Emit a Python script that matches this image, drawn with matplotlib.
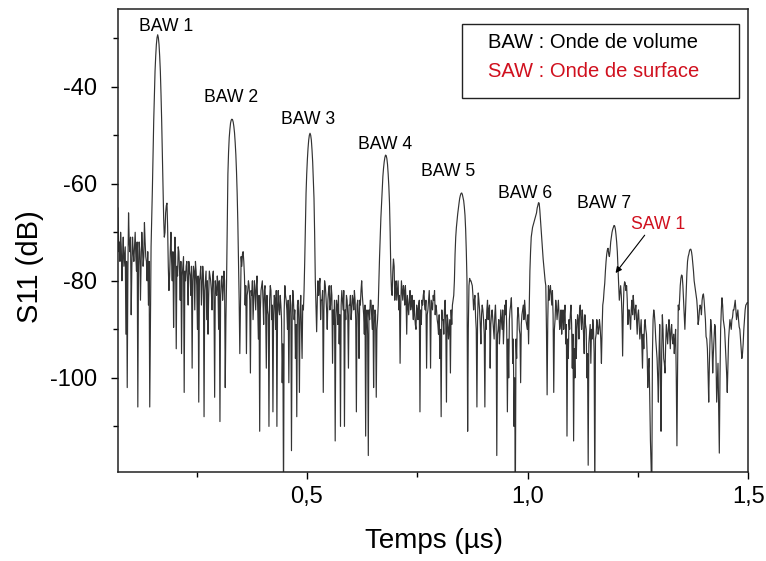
import numpy as np
import matplotlib
matplotlib.use("Agg")
import matplotlib.pyplot as plt
from matplotlib.patches import Rectangle
from matplotlib.ticker import FixedLocator

# time-domain S11 trace, 1.5 ns apart from 0.072 us.
# each echo_k holds the samples on the 3 ns grid, echo_k_mid the
# samples half-way between them.
t_start = 0.072
t_step = 0.0015

lead_in = [-65, -72, -70, -80, -71, -75, -91, -102, -66, -74,
           -87, -71, -76, -70, -78, -106, -72, -84, -70, -77,
           -68, -75, -80, -85, -106]
lead_in_mid = [-74, -76, -73, -75, -77, -73, -76, -78, -72, -71,
               -77, -74, -73, -75, -72, -77, -74, -76, -73, -75,
               -72, -76, -74, -76, -88]

echo_1 = [-73, -61, -47, -36.8, -31.3, -29.3, -31.3, -36.8, -47, -61, -71,
          -66, -64, -77, -79,
          -70, -80, -89.6, -71, -94, -79, -74, -84, -95, -77,
          -103, -80, -76, -85, -78, -83, -98, -77, -86, -78,
          -90, -105, -79, -85, -77, -108, -80, -88, -91, -78,
          -80, -86, -78, -104, -82, -79, -90, -109, -80, -84,
          -78, -102]
echo_1_mid = [-67, -53.5, -41.5, -33.7, -29.9, -29.9, -33.7, -41.5, -53.5, -67,
              -70, -64.5, -69, -82, -74,
              -76, -74, -78, -75, -77, -73, -78, -76, -79, -75,
              -78, -77, -80, -76, -79, -77, -80, -78, -76, -81,
              -79, -80, -77, -81, -79, -82, -78, -80, -83, -79,
              -82, -79, -84, -80, -83, -81, -80, -83, -79, -82,
              -80, -88]

echo_2 = [-80, -58, -50.5, -47.5, -46.7, -47.3, -49.5, -54, -62, -76,
          -95, -75, -74.5, -76,
          -85, -95, -82, -81,
          -99, -83, -88, -80, -86, -79, -92, -111, -82, -80,
          -89, -81, -98, -86, -110, -81, -88, -107, -83, -90,
          -110, -82, -87, -85, -101, -125, -81, -84, -90, -101,
          -83, -115, -82, -88, -96, -108, -84, -103, -83, -96,
          -86]
echo_2_mid = [-68, -53.5, -48.8, -46.9, -46.8, -48.2, -51.5, -57.5, -68, -84,
              -85, -77, -74, -79,
              -81, -83, -80, -84,
              -82, -80, -84, -82, -81, -85, -83, -86, -81, -84,
              -82, -86, -83, -87, -84, -82, -85, -87, -84, -82,
              -85, -86, -83, -88, -93, -86, -83, -86, -84, -87,
              -85, -88, -84, -86, -89, -85, -88, -86, -89, -85,
              -82]

echo_3 = [-76, -62, -55, -51, -49.6, -51, -55.5, -63, -80, -90.5,
          -80, -81, -88, -84, -103, -80, -83, -90, -82, -86,
          -81, -97, -89, -113, -84, -89, -93, -110, -82, -86,
          -110, -88, -84, -98, -85, -88, -83, -86, -84, -107,
          -84, -96, -85, -80, -85, -91, -112, -86, -116, -88,
          -84, -90, -102, -86, -104, -88]
echo_3_mid = [-68.5, -58, -52.7, -50, -50, -53, -59, -70.5, -85, -84,
              -83, -79.5, -84, -82, -86, -81, -86, -84, -81, -85,
              -83, -86, -84, -88, -85, -83, -87, -85, -84, -82,
              -86, -83, -87, -85, -83, -86, -84, -82, -88, -85,
              -87, -84, -82, -83, -87, -85, -88, -91, -86, -84,
              -87, -85, -89, -87, -90, -85]

echo_4 = [-80, -71, -64, -58.5, -55.5, -54.1, -54.8, -58, -64, -78, -83,
          -75.5,
          -84, -80, -82, -86, -97, -80, -84, -82, -81, -91,
          -85, -84, -86, -83, -88, -87, -90, -86, -85, -107,
          -89, -85, -82, -86, -98, -86, -82, -98, -85, -83,
          -82, -85, -88, -91, -96, -108, -88, -91, -84, -105,
          -88, -90, -99, -89, -84]
echo_4_mid = [-75, -67, -61, -56.8, -54.6, -54.2, -56, -60.5, -70, -82, -78,
              -77,
              -81, -84, -80, -83, -85, -82, -81, -85, -84, -83,
              -87, -82, -85, -86, -84, -89, -85, -88, -84, -86,
              -84, -83, -85, -84, -87, -84, -86, -84, -86, -84,
              -87, -86, -89, -87, -90, -86, -88, -86, -89, -87,
              -92, -88, -86, -85, -83]

echo_5 = [-80, -71, -67.5, -65, -63, -62, -62.2, -63.5, -66.5, -74,
          -111, -81, -80, -80.5, -83, -84, -87.5,
          -106, -82.5, -86, -93, -85, -88, -106, -90, -84, -86,
          -98, -87, -88, -92, -85, -116, -90, -93, -86, -90,
          -93, -85, -84, -107, -100, -86, -83.5, -97, -110, -125,
          -96, -85.5, -90, -101, -87, -85, -84, -88, -90, -93]
echo_5_mid = [-74.5, -69, -66.2, -64, -62.4, -61.9, -62.8, -64.8, -69.5, -80,
              -90, -79.5, -80, -81, -86, -83, -90,
              -88, -84, -89, -87, -86, -91, -88, -86, -88, -85,
              -89, -86, -90, -87, -89, -91, -88, -90, -88, -86,
              -89, -87, -90, -92, -88, -85, -88, -92, -100, -92,
              -88, -87, -91, -89, -86, -88, -86, -89, -87, -86]

echo_6 = [-78, -71, -69, -68, -67, -66, -64.5, -64, -67.5, -71.5,
          -75.5, -78.5, -81, -103.5, -81,
          -82, -83, -82, -103, -88, -85.5, -86, -87, -89, -91,
          -86, -87, -93, -112, -96, -90, -85, -98, -113, -100,
          -96, -87, -92, -85, -90, -88, -95, -89, -100, -118,
          -91, -97, -92, -90, -125, -91, -89, -90, -89.5, -97]
echo_6_mid = [-74, -70, -68.5, -67.5, -66.5, -65, -63.9, -65.5, -69.5, -73.5,
              -77, -80, -90, -88, -84,
              -81, -85, -87, -90, -84, -88, -84, -90, -86, -88,
              -90, -85, -89, -92, -88, -87, -89, -91, -94, -88,
              -90, -88, -86, -88, -86, -91, -87, -90, -95, -93,
              -89, -90, -88, -95, -92, -88, -91, -88, -92, -90]

echo_7 = [-85, -82, -78, -74.5, -73.3, -75, -72, -70, -69, -68.7,
          -70.5, -74, -81, -82.5, -83, -95.5, -81.4, -80.5, -81, -89,
          -86, -90, -84, -83, -88, -85, -91, -86, -92, -88,
          -98, -94, -88, -91, -102, -96, -113, -125, -88, -87,
          -92, -96, -105, -89, -111, -87, -96, -99, -89, -93,
          -88, -94, -89, -93, -95, -90, -114, -85]
echo_7_mid = [-84, -80.5, -76, -73.6, -74.5, -73.8, -71, -69.4, -68.6, -69.3,
              -72, -77.5, -84, -81, -87, -86, -80.2, -82, -84, -86,
              -88, -86, -87, -85, -86, -88, -87, -89, -90, -93,
              -91, -89, -90, -95, -98, -104, -118, -95, -86, -89,
              -94, -100, -95, -99, -95, -90, -97, -93, -91, -90,
              -91, -90, -92, -91, -92, -100, -98, -86]

echo_8 = [-84, -79.5, -79, -84, -90, -82, -76, -74.5, -73.5, -74,
          -76.5, -80, -82, -84, -89, -86, -85.5, -84, -82.7, -86,
          -91.5, -94, -105, -92, -89.5, -99, -92, -89.5, -105, -97,
          -115.5, -90, -83.5, -88, -90, -96, -103, -92, -88, -90,
          -87.5, -86, -84, -88, -86, -89.5, -92, -96, -93, -88,
          -85, -84.5]
echo_8_mid = [-81, -78.8, -81, -87, -86, -78.5, -75, -73.8, -73.5, -75,
              -78, -81, -83, -86, -88, -85, -87, -83, -84, -88,
              -92, -99, -97, -88, -93, -95, -89, -96, -101, -106,
              -100, -86, -85, -89, -93, -99, -97, -90, -89, -88,
              -86, -85, -86, -87, -88, -90, -94, -95, -90, -86,
              -84.8, -84.5]

peak_labels = ["BAW 1", "BAW 2", "BAW 3", "BAW 4", "BAW 5", "BAW 6", "BAW 7"]
label_t = [0.181, 0.329, 0.502, 0.678, 0.820, 0.994, 1.173]
label_db = [-27.5, -42.2, -46.7, -51.9, -57.4, -62.1, -64.0]

saw_label = "SAW 1"
saw_text_pos = (1.295, -68.5)
saw_tail = (1.265, -70.6)
saw_tip = (1.199, -78.4)

legend_lines = ["BAW : Onde de volume", "SAW : Onde de surface"]

xtick_vals = [0.5, 1.0, 1.5]
xtick_text = ["0,5", "1,0", "1,5"]
ytick_vals = [-40, -60, -80, -100]

red = "#d0101e"

plt.rcParams['font.family'] = ['Liberation Sans', 'DejaVu Sans']
plt.rcParams['axes.unicode_minus'] = False

coarse = np.concatenate([lead_in, echo_1, echo_2, echo_3, echo_4,
                         echo_5, echo_6, echo_7, echo_8])
halves = np.concatenate([lead_in_mid, echo_1_mid, echo_2_mid, echo_3_mid,
                         echo_4_mid, echo_5_mid, echo_6_mid, echo_7_mid,
                         echo_8_mid])
s11 = np.column_stack([coarse, halves]).ravel()
t = t_start + t_step * np.arange(len(s11))

fig = plt.figure(figsize=(7.66, 5.61), dpi=100)
ax = fig.add_axes([0.1537, 0.1586, 0.8234, 0.8253])

ax.plot(t, s11, color='#333333', lw=0.85)

ax.set_xlim(0.0715, 1.5)
ax.set_ylim(-119.4, -24.0)

ax.xaxis.set_major_locator(FixedLocator(xtick_vals))
ax.set_xticklabels(xtick_text)
ax.xaxis.set_minor_locator(FixedLocator([0.25, 0.75, 1.25]))
ax.yaxis.set_major_locator(FixedLocator(ytick_vals))
ax.yaxis.set_minor_locator(FixedLocator([-30, -50, -70, -90, -110]))
ax.tick_params(which='major', direction='out', length=5, width=1.0,
               labelsize=17)
ax.tick_params(axis='y', which='major', pad=10)
ax.tick_params(axis='x', which='major', pad=5)
ax.tick_params(which='minor', direction='out', length=3.5, width=1.0)
for sp in ax.spines.values():
    sp.set_linewidth(1.1)
    sp.set_color('#222222')

ax.set_xlabel("Temps (µs)", fontsize=20)
ax.set_ylabel("S11 (dB)", fontsize=21)
ax.xaxis.set_label_coords(0.5014, -0.149)
ax.yaxis.set_label_coords(-0.139, 0.443)
ax.xaxis.label.set_va('center')
ax.yaxis.label.set_va('center')

for name, lt, ld in zip(peak_labels, label_t, label_db):
    ax.text(lt, ld, name, fontsize=12.7, ha='center', va='center')

ax.text(saw_text_pos[0], saw_text_pos[1], saw_label, color=red,
        fontsize=12.7, ha='center', va='center')
ax.annotate('', xy=saw_tip, xytext=saw_tail,
            arrowprops=dict(arrowstyle='-|>', color='k', lw=0.8,
                            mutation_scale=9, shrinkA=0, shrinkB=0))

ax.add_patch(Rectangle((0.5463, 0.8071), 0.4391, 0.1599, transform=ax.transAxes,
                       fill=False, lw=1.0, ec='#222222'))
ax.text(0.587, 0.9276, legend_lines[0], transform=ax.transAxes,
        fontsize=14.5, va='center', ha='left', color='k')
ax.text(0.587, 0.866, legend_lines[1], transform=ax.transAxes,
        fontsize=14.5, va='center', ha='left', color=red)

fig.savefig("out.png", dpi=100)
